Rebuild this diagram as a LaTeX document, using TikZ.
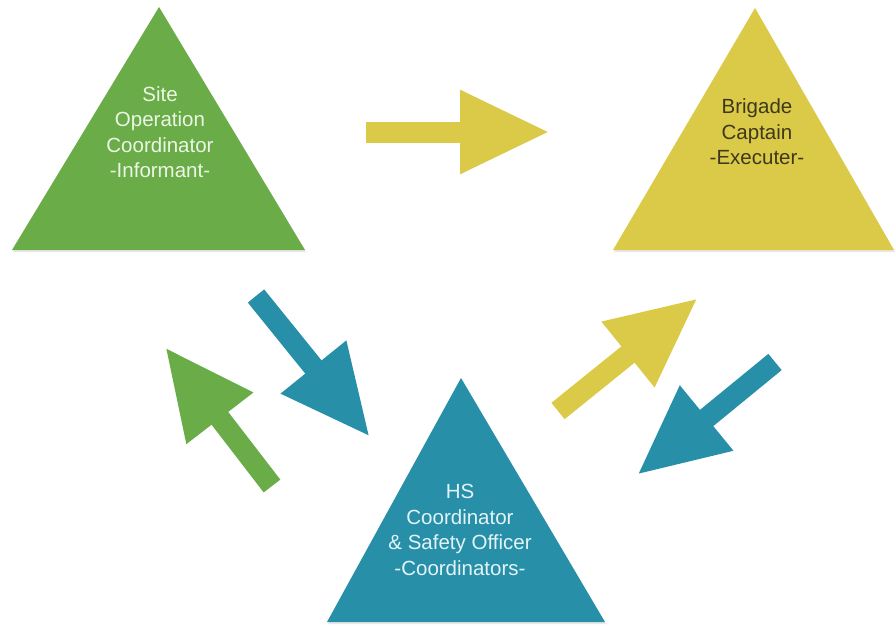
\documentclass[tikz,border=0pt]{standalone}
\usepackage{fontspec}
\setmainfont{Liberation Sans}
\usetikzlibrary{positioning,calc,shadows,arrows.meta}
\definecolor{verde}{RGB}{106,172,72}
\definecolor{giallo}{RGB}{218,202,72}
\definecolor{petrolio}{RGB}{40,143,168}
\definecolor{verdechiaro}{RGB}{236,246,228}
\definecolor{olivascuro}{RGB}{62,56,28}
\definecolor{azzurrino}{RGB}{226,244,248}
\tikzset{
    % Stile per ruoli (triangolo pieno)
    ruolo/.style={fill=#1,
                  drop shadow={shadow xshift=1pt, shadow yshift=-2pt,
                               opacity=.18}},
    % Stile per etichette dei ruoli
    etichetta/.style={align=center, text=#1, inner sep=0pt,
                      font=\fontsize{20.5}{25.5}\selectfont},
    % Stile per frecce (flusso)
    freccia/.style={draw=#1, line width=21pt,
                    -{Triangle[length=90pt, width=78pt]}}
}

\begin{document}
\begin{tikzpicture}[x=1pt, y=-1pt]
    \useasboundingbox (0,0) rectangle (896,629);
    % triangoli
    \fill[ruolo=verde] (12,250) -- (159,7) -- (305,250) -- cycle;
    \fill[ruolo=giallo] (613,250) -- (755,8) -- (894,250) -- cycle;
    \fill[ruolo=petrolio] (327,622) -- (461,378) -- (605,622) -- cycle;
    % etichette
    \node[etichetta=verdechiaro] (site) at (160,132)
        {Site\\Operation\\Coordinator\\-Informant-};
    \node[etichetta=olivascuro] (brigade) at (757,132)
        {Brigade\\Captain\\-Executer-};
    \node[etichetta=azzurrino] (hs) at (460,530)
        {HS\\Coordinator\\\& Safety Officer\\-Coordinators-};
    % estremi delle frecce
    \coordinate (codaA) at (366,132);
    \coordinate (puntaA) at (550,132);
    \coordinate (codaB) at (256,296);
    \coordinate (puntaB) at (370,437);
    \coordinate (codaC) at (272,486);
    \coordinate (puntaC) at (165,347);
    \coordinate (codaD) at (558,411);
    \coordinate (puntaD) at (698,298);
    \coordinate (codaE) at (775,362);
    \coordinate (puntaE) at (637,475);
    % frecce
    \draw[freccia=giallo] (codaA) -- (puntaA);
    \draw[freccia=petrolio] (codaB) -- (puntaB);
    \draw[freccia=verde] (codaC) -- (puntaC);
    \draw[freccia=giallo] (codaD) -- (puntaD);
    \draw[freccia=petrolio] (codaE) -- (puntaE);
\end{tikzpicture}
\end{document}
